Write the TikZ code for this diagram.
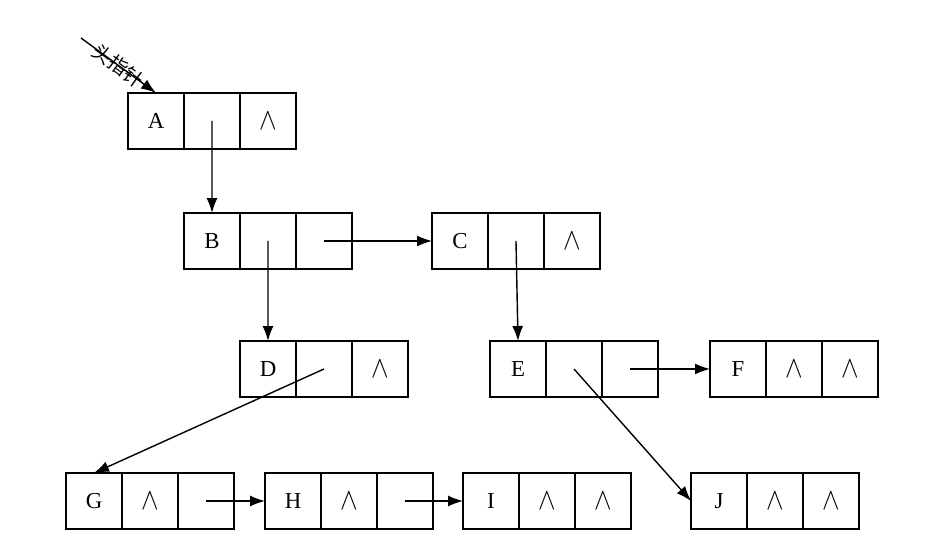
\documentclass[tikz,border=0pt]{standalone}
\usepackage{graphicx}
\usepackage{fontspec}
\setmainfont{Liberation Serif}
\newfontfamily\cjk{Noto Sans CJK SC}
\usetikzlibrary{positioning}
\usetikzlibrary{arrows.meta}

\newcommand{\nil}{\scalebox{1.25}[1.45]{$\wedge$}}

\tikzset{
    cell/.style={draw, line width=1pt, minimum width=1.12cm, minimum height=1.12cm,
        inner sep=0pt, outer sep=0pt, font=\fontsize{13pt}{13pt}\selectfont},
    link/.style={line width=0.8pt, -{Latex[length=3mm, width=2.2mm]}},
}

\begin{document}
\begin{tikzpicture}[x=0.02cm, y=-0.02cm]
    \useasboundingbox (0,0) rectangle (935,546);

    % first level
    \node[cell] (A1) at (156,121) {A};
    \node[cell, right=0pt of A1] (A2) {};
    \node[cell, right=0pt of A2] (A3) {\nil};

    % second level
    \node[cell] (B1) at (212,241) {B};
    \node[cell, right=0pt of B1] (B2) {};
    \node[cell, right=0pt of B2] (B3) {};
    \node[cell] (C1) at (460,241) {C};
    \node[cell, right=0pt of C1] (C2) {};
    \node[cell, right=0pt of C2] (C3) {\nil};

    % third level
    \node[cell] (D1) at (268,369) {D};
    \node[cell, right=0pt of D1] (D2) {};
    \node[cell, right=0pt of D2] (D3) {\nil};
    \node[cell] (E1) at (518,369) {E};
    \node[cell, right=0pt of E1] (E2) {};
    \node[cell, right=0pt of E2] (E3) {};
    \node[cell] (F1) at (738,369) {F};
    \node[cell, right=0pt of F1] (F2) {\nil};
    \node[cell, right=0pt of F2] (F3) {\nil};

    % fourth level
    \node[cell] (G1) at (94,501) {G};
    \node[cell, right=0pt of G1] (G2) {\nil};
    \node[cell, right=0pt of G2] (G3) {};
    \node[cell] (H1) at (293,501) {H};
    \node[cell, right=0pt of H1] (H2) {\nil};
    \node[cell, right=0pt of H2] (H3) {};
    \node[cell] (I1) at (491,501) {I};
    \node[cell, right=0pt of I1] (I2) {\nil};
    \node[cell, right=0pt of I2] (I3) {\nil};
    \node[cell] (J1) at (719,501) {J};
    \node[cell, right=0pt of J1] (J2) {\nil};
    \node[cell, right=0pt of J2] (J3) {\nil};

    % head pointer
    \coordinate (hp) at (81,38);
    \draw[link] (hp) -- (A1.north)
        node[midway, sloped, font=\cjk\fontsize{11pt}{11pt}\selectfont] {头指针};

    \draw[link] (A2.center) -- (B1.north);
    \draw[link] (B2.center) -- (D1.north);
    \draw[link] (B3.center) -- (C1.west);
    \draw[link] (C2.center) -- (E1.north);
    \draw[link] (D2.center) -- (G1.north);
    \draw[link] (E2.center) -- (J1.west);
    \draw[link] (E3.center) -- (F1.west);
    \draw[link] (G3.center) -- (H1.west);
    \draw[link] (H3.center) -- (I1.west);

\end{tikzpicture}
\end{document}
